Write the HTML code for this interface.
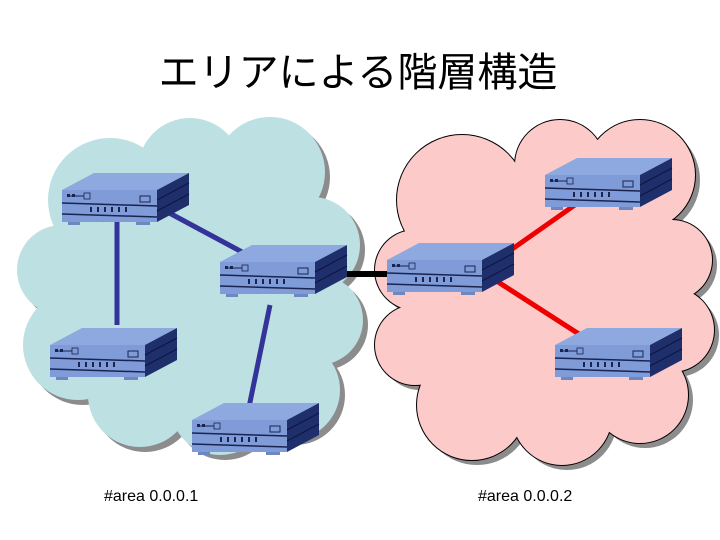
<!DOCTYPE html>
<html><head><meta charset="utf-8"><style>
html,body{margin:0;padding:0;background:#fff;width:720px;height:540px;overflow:hidden}
</style></head><body>
<svg width="720" height="540" viewBox="0 0 720 540" xmlns="http://www.w3.org/2000/svg">
<defs>
<g id="bc">
<circle cx="110" cy="200" r="62"/><circle cx="190" cy="170" r="52"/><circle cx="270" cy="172" r="55"/>
<circle cx="312" cy="245" r="48"/><circle cx="318" cy="320" r="45"/><circle cx="290" cy="390" r="50"/>
<circle cx="220" cy="405" r="50"/><circle cx="140" cy="395" r="52"/><circle cx="78" cy="345" r="55"/>
<circle cx="62" cy="270" r="45"/><circle cx="190" cy="290" r="105"/>
</g>
<g id="pc">
<circle cx="462" cy="200" r="65"/><circle cx="560" cy="165" r="45"/><circle cx="640" cy="175" r="55"/>
<circle cx="672" cy="260" r="40"/><circle cx="672" cy="330" r="42"/><circle cx="640" cy="395" r="48"/>
<circle cx="562" cy="415" r="50"/><circle cx="472" cy="405" r="55"/><circle cx="415" cy="345" r="40"/>
<circle cx="415" cy="270" r="40"/><circle cx="550" cy="300" r="110"/>
</g>
<g id="r">
<polygon points="0,0 32,-17 127,-17 95,0" fill="#8ea9e0"/>
<rect x="0" y="0" width="95" height="32" fill="#7f9bd8"/>
<polygon points="95,0 127,-17 127,15 95,32" fill="#1f2f6b"/>
<line x1="95" y1="10" x2="127" y2="-7" stroke="#0b1640" stroke-width="1"/>
<line x1="95" y1="21" x2="127" y2="4" stroke="#0b1640" stroke-width="1"/>
<line x1="0" y1="13" x2="95" y2="16" stroke="#1a2450" stroke-width="1.5"/>
<line x1="0" y1="24" x2="95" y2="27" stroke="#1a2450" stroke-width="1.5"/>
<rect x="5" y="4" width="3" height="3" fill="#1a2450"/><rect x="10" y="4" width="3" height="3" fill="#1a2450"/>
<line x1="5" y1="6" x2="22" y2="6" stroke="#1a2450"/><rect x="22" y="3" width="6" height="6" fill="none" stroke="#1a2450" stroke-width="0.8"/>
<rect x="78" y="6" width="10" height="6" fill="none" stroke="#1a2450" stroke-width="1"/>
<g fill="#1a2450"><rect x="28" y="17" width="2" height="5"/><rect x="35" y="17" width="2" height="5"/><rect x="42" y="17" width="2" height="5"/><rect x="49" y="17" width="2" height="5"/><rect x="56" y="17" width="2" height="5"/><rect x="63" y="17" width="2" height="5"/></g>
<rect x="6" y="32" width="12" height="3" fill="#6f87c0"/><rect x="74" y="32" width="14" height="3" fill="#6f87c0"/>
</g>
</defs>
<text x="358" y="86" text-anchor="middle" font-family="'Liberation Sans','Noto Sans CJK JP',sans-serif" font-size="40" fill="#000">エリアによる階層構造</text>
<use href="#bc" transform="translate(5,5)" fill="#8c8c8c"/>
<use href="#bc" fill="#bde0e3"/>
<use href="#pc" transform="translate(5,5)" fill="#8c8c8c"/>
<use href="#pc" fill="none" stroke="#000" stroke-width="2"/>
<use href="#pc" fill="#fdcaca"/>
<g fill="#fdcaca">
<circle cx="620" cy="250" r="60"/><circle cx="470" cy="330" r="60"/><circle cx="620" cy="350" r="55"/><circle cx="470" cy="250" r="55"/>
</g>
<g stroke="#333399" stroke-width="5">
<line x1="117" y1="220" x2="117" y2="325"/>
<line x1="160" y1="208" x2="242" y2="252"/>
<line x1="270" y1="305" x2="248" y2="412"/>
</g>
<line x1="338" y1="274" x2="390" y2="274" stroke="#000" stroke-width="6"/>
<g stroke="#ee0000" stroke-width="5">
<line x1="582" y1="200" x2="508" y2="252"/>
<line x1="495" y1="280" x2="582" y2="336"/>
</g>
<use href="#r" transform="translate(62,190)"/>
<use href="#r" transform="translate(220,262)"/>
<use href="#r" transform="translate(50,345)"/>
<use href="#r" transform="translate(192,420)"/>
<use href="#r" transform="translate(387,260)"/>
<use href="#r" transform="translate(545,175)"/>
<use href="#r" transform="translate(555,345)"/>
<text x="104" y="501" font-family="'Liberation Sans',sans-serif" font-size="16" fill="#000">#area 0.0.0.1</text>
<text x="478" y="501" font-family="'Liberation Sans',sans-serif" font-size="16" fill="#000">#area 0.0.0.2</text>
</svg>
</body></html>
